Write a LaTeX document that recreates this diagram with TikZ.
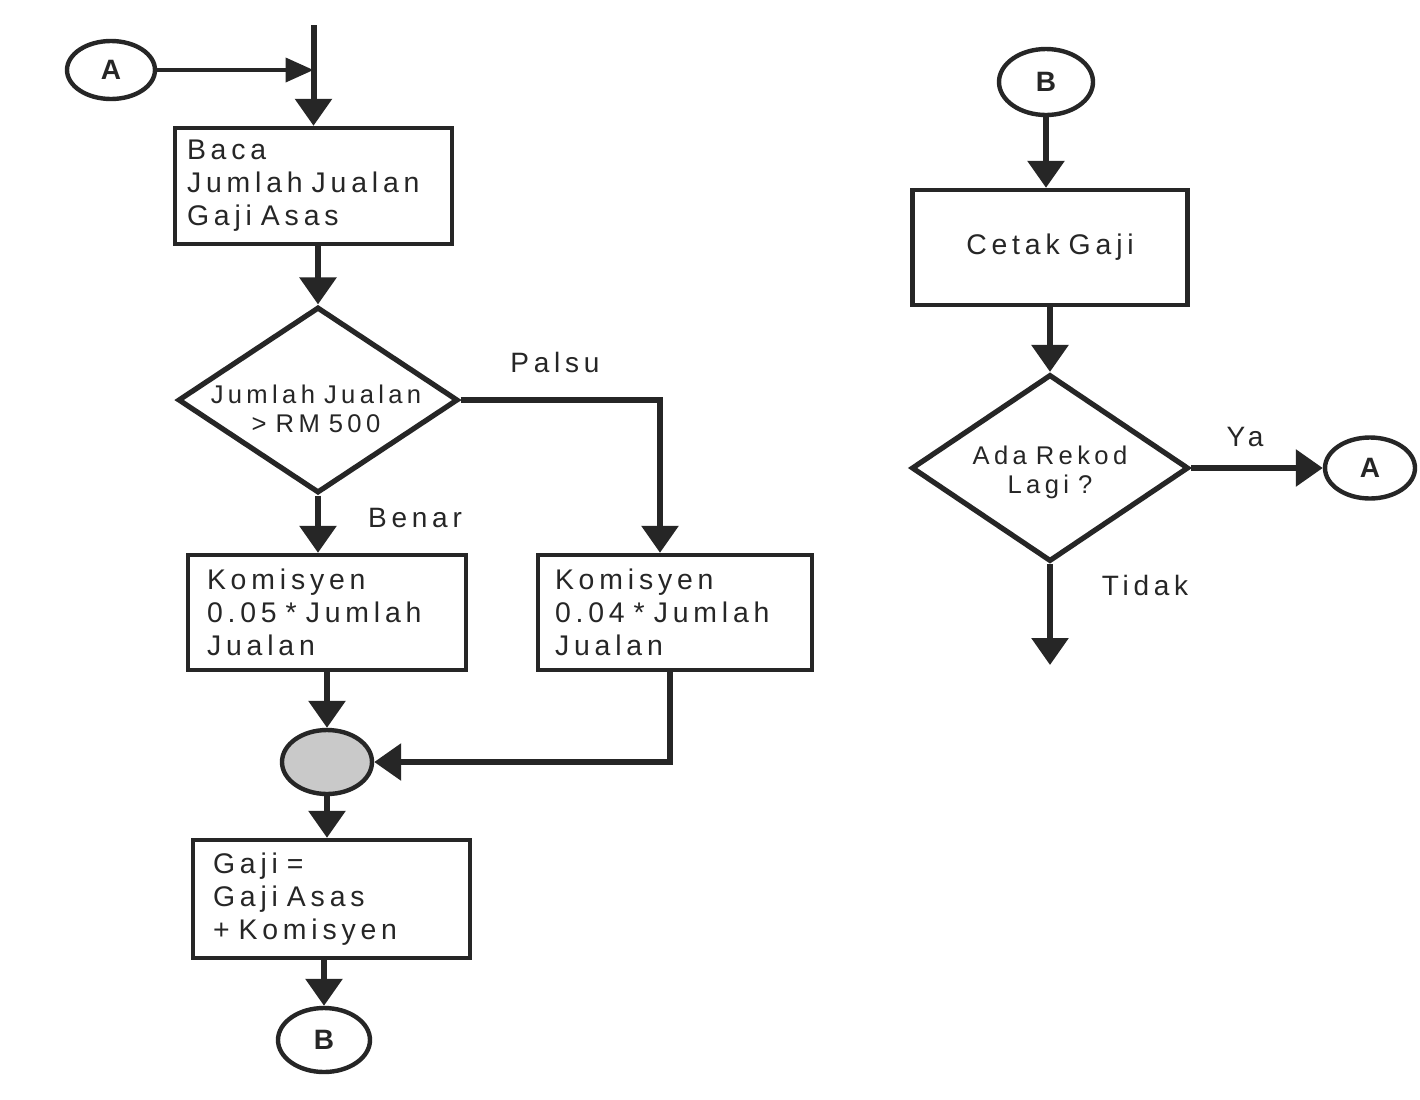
\documentclass[tikz,border=0pt]{standalone}
\usepackage{fontspec}
\setmainfont{Liberation Sans}[LetterSpace=17]
\usetikzlibrary{shapes.geometric,arrows.meta}
\definecolor{ink}{HTML}{262626}
\definecolor{joinfill}{HTML}{C9C9C9}

% fixed word gap for the box and decision texts
\newcommand\ws{\hspace*{4.5pt}}

\tikzset{
  wire/.style={draw=ink, line width=3pt},
  flow/.style={wire, -{Triangle[length=13.5pt,width=18pt]}},
  thinflow/.style={draw=ink, line width=2pt, -{Triangle[length=14pt,width=12pt]}},
  proc/.style={draw=ink, line width=2.2pt, rectangle, fill=white, align=left,
    inner ysep=0pt, text=ink, font=\fontsize{14.2}{16.5}\selectfont},
  decision/.style={draw=ink, line width=2.6pt, diamond, inner sep=0pt, fill=white},
  dtext/.style={align=center, inner sep=0pt, text=ink, font=\fontsize{12.8}{14.5}\selectfont},
  conn/.style={draw=ink, line width=2.2pt, ellipse, inner sep=0pt, fill=white,
    text=ink, font=\bfseries\fontsize{14}{14}\selectfont},
  lbl/.style={inner sep=0pt, text=ink, font=\fontsize{14}{14}\selectfont}
}

\begin{document}
\begin{tikzpicture}[x=0.5pt,y=-0.5pt]
\useasboundingbox[fill=white] (0,0) rectangle (1420,1099);

% ---------- left column ----------
\node[conn, minimum width=44pt, minimum height=29pt] (cA1) at (111,70) {A};
\coordinate (top) at (313,25);
\node[proc, minimum height=58pt, text width=126.5pt, inner xsep=6pt] (read) at (313.5,186)
  {Baca\\Jumlah\ws Jualan\\Gaji\ws Asas};
\node[decision, minimum width=140pt, minimum height=93pt] (test) at (318,400) {};
\node[dtext] (testtxt) at (316,409) {Jumlah\ws Jualan\\>\ws RM\ws 500};
\node[proc, minimum height=57.5pt, text width=120pt, inner xsep=9.5pt] (kl) at (327,612.5)
  {Komisyen\\0.05\ws *\ws Jumlah\\Jualan};
\node[proc, minimum height=57.5pt, text width=120pt, inner xsep=8.5pt] (kr) at (675,612.5)
  {Komisyen\\0.04\ws *\ws Jumlah\\Jualan};
\node[conn, fill=joinfill, minimum width=45pt, minimum height=32pt] (join) at (327,762) {};
\node[proc, minimum height=59pt, text width=118.5pt, inner xsep=10pt] (pay) at (331.5,899)
  {Gaji\ws =\\Gaji\ws Asas\\+\ws Komisyen};
\node[conn, minimum width=46pt, minimum height=32pt] (cB1) at (324,1040) {B};

\node[lbl] (palsu) at (555,362) {Palsu};
\node[lbl] (benar) at (415,518) {Benar};

\draw[flow] (read.north |- top) -- (read.north);
\draw[thinflow] (cA1.east) -- (cA1.east -| read.north);
\draw[flow] (read.south -| test.north) -- (test.north);
\draw[flow] (test.south) -- (test.south |- kl.north);
\draw[flow] (test.east) -| ([xshift=-7.5pt]kr.north);
\draw[flow] (kl.south) -- (join.north);
\draw[flow] ([xshift=-2.5pt]kr.south) |- (join.east);
\draw[flow] (join.south) -- (join.south |- pay.north);
\draw[flow] (cB1.north |- pay.south) -- (cB1.north);

% ---------- right column ----------
\node[conn, minimum width=47pt, minimum height=33pt] (cB2) at (1046,82) {B};
\node[proc, align=center, minimum width=137.5pt, minimum height=57.5pt] (print) at (1050,247.5)
  {Cetak\ws Gaji};
\node[decision, minimum width=138.5pt, minimum height=93.5pt] (more) at (1050,468) {};
\node[dtext] (moretxt) at (1050,472) {Ada\ws Rekod\\Lagi\ws ?};
\node[conn, minimum width=45pt, minimum height=30.5pt] (cA2) at (1370,468) {A};
\coordinate (stop) at (1050,665);

\node[lbl] (ya) at (1245,437) {Ya};
\node[lbl] (tidak) at (1145,585) {Tidak};

\draw[flow] (cB2.south) -- (cB2.south |- print.north);
\draw[flow] (print.south -| more.north) -- (more.north);
\draw[flow] (more.east) -- (cA2.west);
\draw[flow] (more.south) -- (stop);
\end{tikzpicture}
\end{document}
